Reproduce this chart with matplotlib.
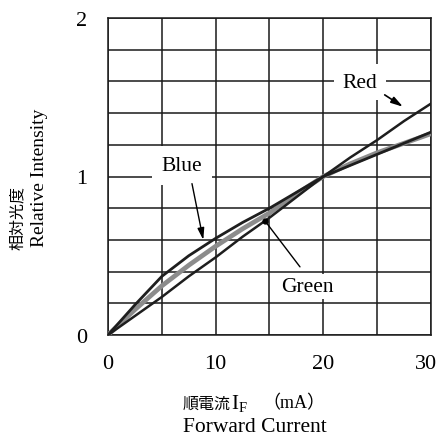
import matplotlib
matplotlib.use("Agg")
import matplotlib.pyplot as plt
from matplotlib.transforms import ScaledTranslation

# Forward current (mA) vs relative luminous intensity
current = [0, 2.5, 5, 7.5, 10, 12.5, 15, 17.5, 20, 22.5, 25, 27.5, 30]
blue = [0, 0.19, 0.37, 0.50, 0.61, 0.71, 0.80, 0.90, 1.00, 1.07, 1.14, 1.21, 1.28]
green = [0, 0.16, 0.31, 0.44, 0.56, 0.67, 0.77, 0.89, 1.00, 1.08, 1.15, 1.21, 1.27]
red = [0, 0.12, 0.24, 0.37, 0.49, 0.62, 0.74, 0.87, 1.00, 1.12, 1.23, 1.35, 1.46]

x_ticks = [0, 10, 20, 30]
y_ticks = [0, 1, 2]

plt.rcParams["mathtext.fontset"] = "custom"
plt.rcParams["mathtext.rm"] = "Liberation Serif"
plt.rcParams["mathtext.it"] = "Liberation Serif:italic"

serif = ["Liberation Serif", "DejaVu Serif"]
cjk = ["Noto Sans CJK JP", "Liberation Serif"]
mixed = ["Liberation Serif", "Noto Sans CJK JP"]

W = H = 439
fig = plt.figure(figsize=(W / 100, H / 100), dpi=100)


def px(x, y):
    """Pixel position (from top-left) to figure fraction."""
    return x / W, 1 - y / H


L, R, T, B = 108, 431, 19, 336
ax = fig.add_axes([L / W, 1 - B / H, (R - L) / W, (B - T) / H])
ax.set_xlim(0, 30)
ax.set_ylim(0, 2)

# grid every 5 mA and every 0.2
for gx in range(0, 31, 5):
    ax.axvline(gx, color="#1a1a1a", lw=1.1, zorder=1)
for i in range(11):
    ax.axhline(i * 0.2, color="#1a1a1a", lw=1.1, zorder=1)

ax.plot(current, green, color="#8c8c8c", lw=3.4, zorder=3, solid_capstyle="round")
ax.plot(current, blue, color="#1e1e1e", lw=2.0, zorder=4)
ax.plot(current, red, color="#1e1e1e", lw=1.8, zorder=4)

ax.set_xticks(x_ticks)
ax.set_yticks(y_ticks)
ax.set_xticklabels([str(v) for v in x_ticks], family=serif, fontsize=16)
ax.set_yticklabels([str(v) for v in y_ticks], family=serif, fontsize=16)
ax.tick_params(length=0)
ax.tick_params(axis="x", pad=14)
ax.tick_params(axis="y", pad=15)
# keep the last x label inside the figure edge
last = ax.get_xticklabels()[-1]
last.set_transform(last.get_transform() + ScaledTranslation(-5 / 100, 0, fig.dpi_scale_trans))
for s in ax.spines.values():
    s.set_linewidth(1.1)
    s.set_color("#1a1a1a")

head = "-|>,head_length=0.7,head_width=0.2"

ax.text(6.83, 1.07, "Blue", family=serif, fontsize=15.5, ha="center", va="center", zorder=6,
        bbox=dict(boxstyle="square,pad=0.45", fc="white", ec="none"))
ax.annotate("", xy=(8.85, 0.60), xytext=(7.8, 0.955), zorder=6,
            arrowprops=dict(arrowstyle=head, color="black", lw=1.0, shrinkA=0, shrinkB=0))

ax.text(23.4, 1.595, "Red", family=serif, fontsize=15.5, ha="center", va="center", zorder=6,
        bbox=dict(boxstyle="square,pad=0.4", fc="white", ec="none"))
ax.annotate("", xy=(27.4, 1.44), xytext=(25.7, 1.515), zorder=6,
            arrowprops=dict(arrowstyle=head, color="black", lw=1.2, shrinkA=0, shrinkB=0))

ax.text(18.53, 0.305, "Green", family=serif, fontsize=15.5, ha="center", va="center", zorder=6,
        bbox=dict(boxstyle="square,pad=0.15", fc="white", ec="none"))
ax.annotate("", xy=(14.58, 0.72), xytext=(17.83, 0.43), zorder=6,
            arrowprops=dict(arrowstyle="-", color="black", lw=1.0, shrinkA=0, shrinkB=0))
ax.plot([14.58], [0.72], "o", color="black", ms=3.5, zorder=7)

# y axis title (Japanese + English), rotated
fig.text(*px(17, 218), "相対光度", rotation=90, ha="center", va="center",
         family=cjk, fontsize=11.5)
fig.text(*px(40, 178), "Relative Intensity", rotation=90, ha="center", va="center",
         family=serif, fontsize=14)

# x axis title (Japanese + English)
fig.text(*px(183, 404), "順電流", ha="left", va="center", family=cjk, fontsize=11.5)
fig.text(*px(231, 404), r"$\mathrm{I}_\mathrm{F}$", ha="left", va="center", fontsize=15)
fig.text(*px(262, 404), "（mA）", ha="left", va="center", family=mixed, fontsize=13)
fig.text(*px(255, 428), "Forward Current", ha="center", va="center",
         family=serif, fontsize=15.5)

fig.savefig("out.png", dpi=100)
